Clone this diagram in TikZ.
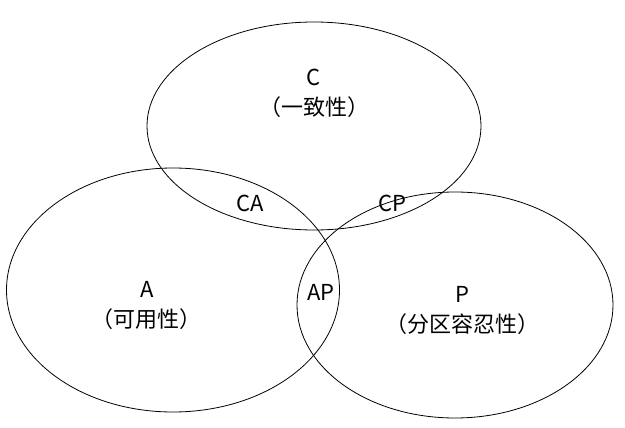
\documentclass[tikz,border=0pt]{standalone}
\usepackage{fontspec}
\newfontfamily\cjk{Noto Sans CJK SC}
\usetikzlibrary{shapes.geometric}

\begin{document}
\begin{tikzpicture}[x=1pt,y=-1pt,
  setnode/.style={ellipse,draw,thick,inner sep=0pt},
  labelnode/.style={font=\cjk\fontsize{22}{30}\selectfont,align=center}
]
\useasboundingbox (0,0) rectangle (625,428);

% the three sets
\node[setnode,minimum width=334,minimum height=208] (C) at (314,126) {};
\node[setnode,minimum width=333,minimum height=244] (A) at (173,290) {};
\node[setnode,minimum width=316,minimum height=226] (P) at (455,305) {};

% labels
\node[labelnode] (Clab) at (314,93) {C\\（一致性）};
\node[labelnode] (Alab) at (147,305) {A\\（可用性）};
\node[labelnode] (Plab) at (462,310) {P\\（分区容忍性）};
\node[labelnode] (CA) at (250,203) {CA};
\node[labelnode] (CP) at (392,203) {CP};
\node[labelnode] (AP) at (321,292) {AP};

\end{tikzpicture}
\end{document}
